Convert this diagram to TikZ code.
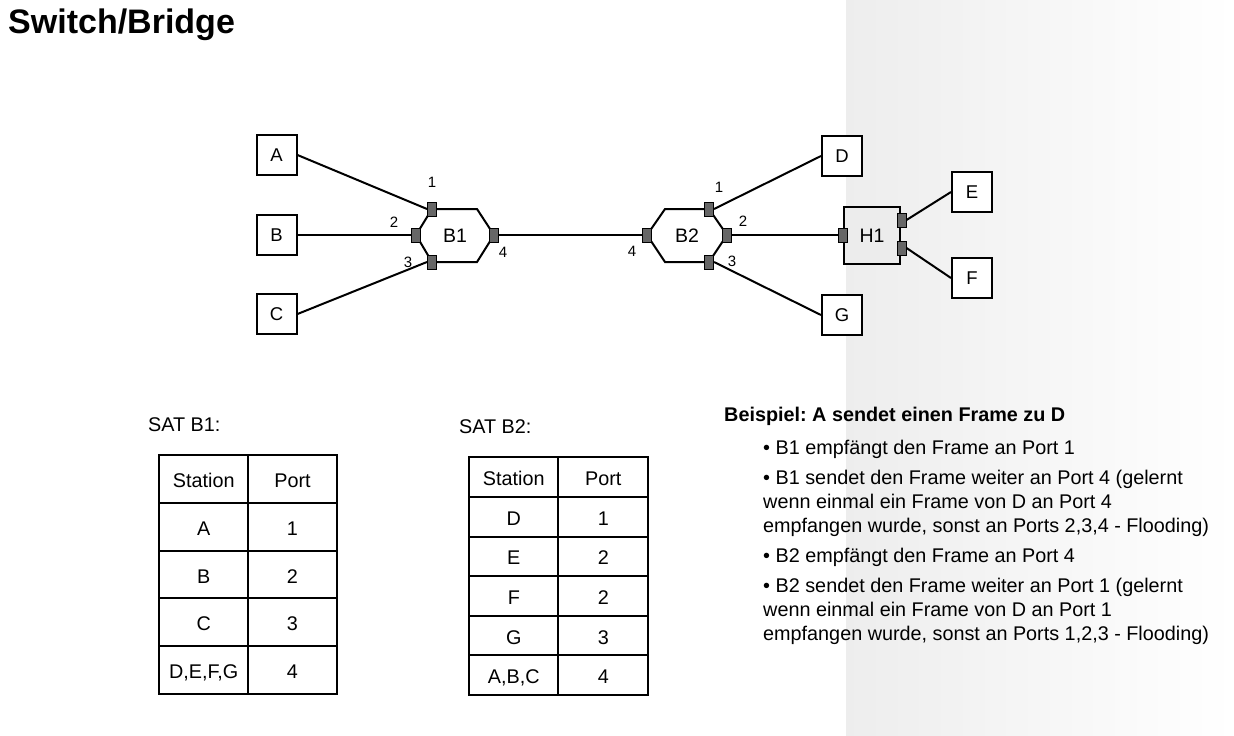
\documentclass[tikz,border=0pt]{standalone}
\usepackage{fontspec}
\setmainfont{Liberation Sans}
\usetikzlibrary{positioning}
\definecolor{PortGray}{RGB}{102,102,102}
\definecolor{HubFill}{RGB}{236,236,236}
\newcommand{\txtsize}{\fontsize{19.8}{24}\selectfont}
\frenchspacing
\tikzset{
  station/.style={draw=black,line width=2pt,fill=white,minimum width=40pt,
    minimum height=40pt,inner sep=0pt,font=\fontsize{18.5}{20}\selectfont},
  portbox/.style={draw=black,line width=1pt,fill=PortGray,
    minimum width=9pt,minimum height=14pt,inner sep=0pt},
  portnum/.style={inner sep=0pt,font=\fontsize{15}{17}\selectfont},
  bridgeshape/.style={draw=black,line width=2pt,fill=white,line join=miter},
  devlabel/.style={inner sep=0pt,font=\fontsize{19.5}{21}\selectfont},
  link/.style={draw=black,line width=2pt},
  cell/.style={draw=black,line width=2pt,inner sep=0pt,text height=17pt,
    text depth=0pt,font=\txtsize},
}

\begin{document}
\begin{tikzpicture}[x=1pt,y=-1pt]
  \fill[white] (0,0) rectangle (1234,736);
  \useasboundingbox (0,0) rectangle (1234,736);
  \shade[left color=black!7,right color=white] (846,0) rectangle (1234,736);
  \node[anchor=west,inner sep=0pt,font=\fontsize{34}{40}\selectfont\bfseries] (title) at (8,25) {Switch/Bridge};

  \node[station] (A) at (276.5,155) {A};
  \node[station] (B) at (276.5,235) {B};
  \node[station] (C) at (276.5,314) {C};
  \node[station] (D) at (842,156) {D};
  \node[station] (G) at (842,315) {G};
  \node[station] (E) at (972,192) {E};
  \node[station] (F) at (972,278) {F};

  \draw[bridgeshape] (432,209) -- (477,209) -- (494,235) -- (477,262) -- (432,262) -- (416,235) -- cycle;
  \node[devlabel] (b1) at (455,236) {B1};
  \node[portbox] (b1p1) at (432,209) {};
  \node[portbox] (b1p2) at (416,235) {};
  \node[portbox] (b1p3) at (432,262) {};
  \node[portbox] (b1p4) at (494,235) {};
  \node[portnum] (b1n1) at (432,182) {1};
  \node[portnum] (b1n2) at (394,222) {2};
  \node[portnum] (b1n3) at (408,262) {3};
  \node[portnum] (b1n4) at (503,252) {4};

  \draw[bridgeshape] (647,235) -- (665,209) -- (709,209) -- (727,235) -- (709,262) -- (665,262) -- cycle;
  \node[devlabel] (b2) at (687,236) {B2};
  \node[portbox] (b2p1) at (709,209) {};
  \node[portbox] (b2p2) at (727,235) {};
  \node[portbox] (b2p3) at (709,262) {};
  \node[portbox] (b2p4) at (647,235) {};
  \node[portnum] (b2n1) at (719,187) {1};
  \node[portnum] (b2n2) at (743,221) {2};
  \node[portnum] (b2n3) at (732,261) {3};
  \node[portnum] (b2n4) at (632,251) {4};

  \node[draw=black,line width=2pt,fill=HubFill,minimum width=56pt,minimum height=57pt,
        inner sep=0pt,font=\fontsize{19.5}{21}\selectfont] (h1) at (872,235.5) {H1};
  \node[portbox] (h1p1) at (843,235) {};
  \node[portbox] (h1p2) at (901.5,220) {};
  \node[portbox] (h1p3) at (901.5,248) {};

  \draw[link] (A.east) -- (b1p1.west);
  \draw[link] (B.east) -- (b1p2.west);
  \draw[link] (C.east) -- (b1p3.west);
  \draw[link] (b1p4.east) -- (b2p4.west);
  \draw[link] (b2p1.east) -- (D.west);
  \draw[link] (b2p3.east) -- (G.west);
  \draw[link] (b2p2.east) -- (h1p1.west);
  \draw[link] (h1p2.east) -- (E.west);
  \draw[link] (h1p3.east) -- (F.west);

  \node[anchor=west,inner sep=0pt,font=\txtsize] (sat1) at (148,425) {SAT B1:};
  \foreach \st/\pt [count=\i from 0] in {Station/Port,A/1,B/2,C/3,{D,E,F,G}/4}{
    \node[cell,minimum width=89pt,minimum height=47.8pt] (sat1-st\i) at (203.7,{478.9+47.8*\i}) {\st};
    \node[cell,minimum width=88.4pt,minimum height=47.8pt] (sat1-pt\i) at (292.5,{478.9+47.8*\i}) {\pt};
  }

  \node[anchor=west,inner sep=0pt,font=\txtsize] (sat2) at (459,427) {SAT B2:};
  \foreach \st/\pt [count=\i from 0] in {Station/Port,D/1,E/2,F/2,G/3,{A,B,C}/4}{
    \node[cell,minimum width=89pt,minimum height=39.6pt] (sat2-st\i) at (513.8,{477.1+39.6*\i}) {\st};
    \node[cell,minimum width=90pt,minimum height=39.6pt] (sat2-pt\i) at (603.3,{477.1+39.6*\i}) {\pt};
  }

  \node[anchor=base west,inner sep=0pt,font=\txtsize\bfseries] (beispiel) at (724,421)
    {Beispiel: A sendet einen Frame zu D};
  \node[anchor=north west,inner sep=0pt,align=left,font=\txtsize] (ablauf) at (763,440)
    {• B1 empfängt den Frame an Port 1\\[6pt]
     • B1 sendet den Frame weiter an Port 4 (gelernt\\
     wenn einmal ein Frame von D an Port 4\\
     empfangen wurde, sonst an Ports 2,3,4 - Flooding)\\[6pt]
     • B2 empfängt den Frame an Port 4\\[6pt]
     • B2 sendet den Frame weiter an Port 1 (gelernt\\
     wenn einmal ein Frame von D an Port 1\\
     empfangen wurde, sonst an Ports 1,2,3 - Flooding)};
\end{tikzpicture}
\end{document}
